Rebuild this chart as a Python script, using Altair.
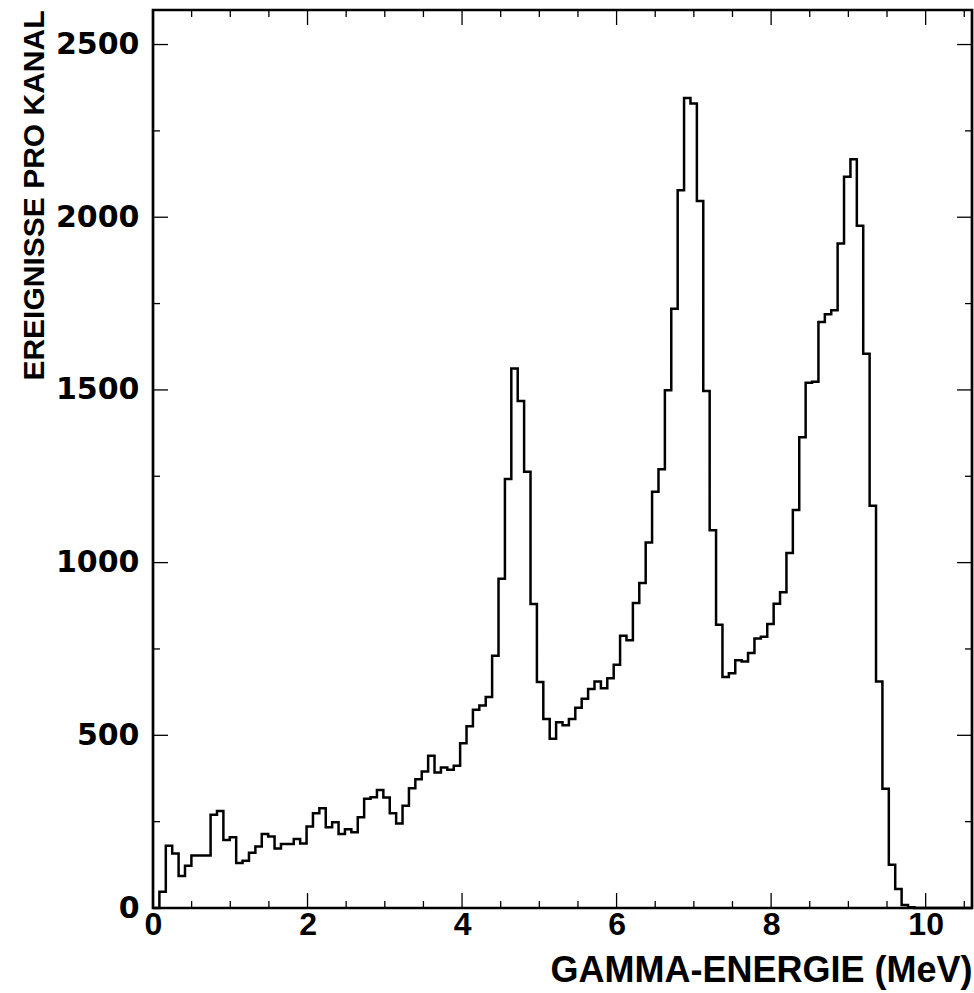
import altair as alt
import pandas as pd

# ---- data ----
X_MAX = 10.6          # MeV, right edge of the plot
Y_MAX = 2600          # counts, top of the plot
N_CH = 128            # channels across 0 .. X_MAX

counts = [
    0, 47, 180, 158, 93, 122, 152, 152, 152, 270,
    281, 197, 205, 130, 137, 160, 178, 214, 207, 172,
    185, 185, 200, 187, 236, 274, 289, 234, 248, 214,
    228, 219, 263, 316, 321, 342, 320, 274, 245, 296,
    347, 373, 395, 441, 392, 407, 400, 412, 477, 526,
    574, 586, 611, 730, 953, 1242, 1562, 1468, 1263, 880,
    654, 547, 490, 538, 529, 547, 580, 606, 634, 656,
    636, 665, 704, 788, 775, 883, 941, 1058, 1205, 1270,
    1499, 1735, 2078, 2345, 2329, 2047, 1497, 1094, 820, 669,
    680, 717, 714, 738, 780, 785, 822, 881, 914, 1028,
    1152, 1363, 1521, 1524, 1697, 1719, 1731, 1924, 2117, 2168,
    1975, 1605, 1165, 656, 345, 125, 55, 9, 2, 0,
    0, 0, 0, 0, 0, 0, 0, 0,
]

x_major = [0, 2, 4, 6, 8, 10]
x_minor = [0.5, 1, 1.5, 2.5, 3, 3.5, 4.5, 5, 5.5, 6.5, 7, 7.5, 8.5, 9, 9.5, 10.5]
y_major = [0, 500, 1000, 1500, 2000, 2500]
y_minor = [250, 750, 1250, 1750, 2250]

x_title = "GAMMA-ENERGIE (MeV)"
y_title = "EREIGNISSE PRO KANAL"

# ---- build table ----
ch_w = X_MAX / N_CH
energy = [i * ch_w for i in range(len(counts))] + [X_MAX]
values = counts + [counts[-1]]
hist = pd.DataFrame({"E": energy, "N": values})

W, H = 819, 898
SANS = "Liberation Sans, Arial, sans-serif"

xs = alt.Scale(domain=[0, X_MAX], nice=False, zero=False)
ys = alt.Scale(domain=[0, Y_MAX], nice=False, zero=False)

x_axis = alt.Axis(
    values=x_major, title=x_title, domain=False, ticks=False, tickSize=0,
    grid=False, labelFlush=False, labelOverlap=False, format="d",
    labelFont=SANS, labelFontSize=32, labelFontWeight="bold",
    labelColor="black", labelPadding=1,
    titleFont=SANS, titleFontSize=36, titleFontWeight="bold",
    titleColor="black", titleX=W, titleY=73, titleAlign="right",
    titleBaseline="alphabetic",
)
y_axis = alt.Axis(
    values=y_major, title=y_title, domain=False, ticks=False, tickSize=0,
    grid=False, labelFlush=False, labelOverlap=False, format="d",
    labelFont="DejaVu Sans", labelFontSize=30, labelFontWeight="bold",
    labelColor="black", labelPadding=14,
    titleFont=SANS, titleFontSize=30, titleFontWeight="bold",
    titleColor="black", titleAngle=270, titleX=-110, titleY=0,
    titleAlign="right", titleBaseline="alphabetic",
)

line = alt.Chart(hist).mark_line(
    interpolate="step-after", color="black", strokeWidth=2.5
).encode(
    x=alt.X("E:Q", scale=xs, axis=x_axis),
    y=alt.Y("N:Q", scale=ys, axis=y_axis),
)


def ticks(vals, side, length):
    base = alt.Chart(pd.DataFrame({"E": vals, "N": vals})).mark_rule(
        color="black", strokeWidth=1.3)
    if side == "bottom":
        return base.encode(x=alt.X("E:Q", scale=xs, axis=x_axis),
                           y=alt.value(H), y2=alt.value(H - length))
    if side == "top":
        return base.encode(x=alt.X("E:Q", scale=xs, axis=x_axis),
                           y=alt.value(0), y2=alt.value(length))
    if side == "left":
        return base.encode(y=alt.Y("N:Q", scale=ys, axis=y_axis),
                           x=alt.value(0), x2=alt.value(length))
    return base.encode(y=alt.Y("N:Q", scale=ys, axis=y_axis),
                       x=alt.value(W), x2=alt.value(W - length))


layers = [line]
for side in ["bottom", "top"]:
    layers.append(ticks(x_major, side, 15))
    layers.append(ticks(x_minor, side, 7))
for side in ["left", "right"]:
    layers.append(ticks(y_major, side, 15))
    layers.append(ticks(y_minor, side, 7))

chart = alt.layer(*layers).properties(
    width=W, height=H,
    autosize=alt.AutoSizeParams(type="none"),
    padding={"left": 153, "top": 10, "right": 2, "bottom": 85},
    background="white",
).configure_view(stroke="black", strokeWidth=2.7)

chart.save("out.html", embed_options={"renderer": "svg", "actions": False})
